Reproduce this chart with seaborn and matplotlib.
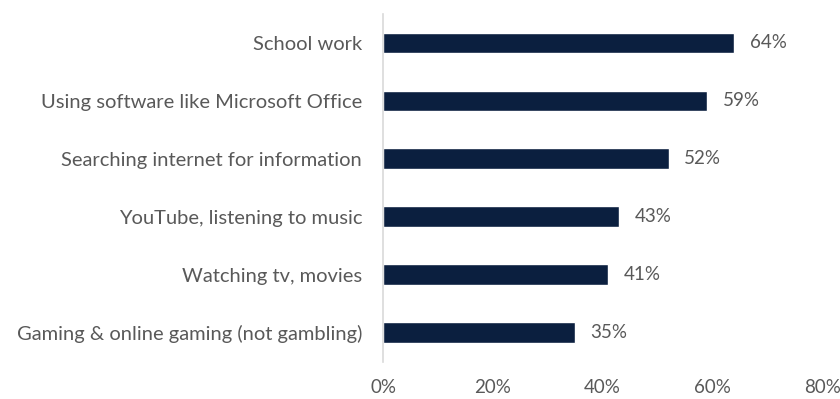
import matplotlib
matplotlib.use("Agg")
import matplotlib.pyplot as plt
import seaborn as sns
import pandas as pd

categories = [
    "School work",
    "Using software like Microsoft Office",
    "Searching internet for information",
    "YouTube, listening to music",
    "Watching tv, movies",
    "Gaming & online gaming (not gambling)",
]
values = [64, 59, 52, 43, 41, 35]
x_ticks = [0, 20, 40, 60, 80]
x_tick_labels = ["0%", "20%", "40%", "60%", "80%"]

sns.set_theme(style="white")
plt.rcParams["font.family"] = ["Lato", "DejaVu Sans"]

df = pd.DataFrame({"activity": categories, "share": values})

fig = plt.figure(figsize=(8.4, 3.99), dpi=100)
ax = fig.add_axes([0.456, 0.093, 0.523, 0.872])

sns.barplot(data=df, x="share", y="activity", color="#0b1f3f",
            width=0.36, saturation=1, ax=ax)

text_color = "#595959"
for bar, v in zip(ax.patches, values):
    ax.text(bar.get_width() + 2.8, bar.get_y() + bar.get_height() / 2,
            f"{v}%", va="center", ha="left", fontsize=13.5, color=text_color)

ax.set_xlim(0, 80)
ax.set_xticks(x_ticks)
ax.set_xticklabels(x_tick_labels)
ax.set_xlabel("")
ax.set_ylabel("")
ax.tick_params(axis="x", length=0, labelsize=13.5, labelcolor=text_color, pad=12)
ax.tick_params(axis="y", length=0, labelsize=14.5, labelcolor=text_color, pad=15)

for side in ["top", "right", "bottom"]:
    ax.spines[side].set_visible(False)
ax.spines["left"].set_color("#d9d9d9")
ax.spines["left"].set_linewidth(1.2)

fig.savefig("out.png", dpi=100, facecolor="white")
